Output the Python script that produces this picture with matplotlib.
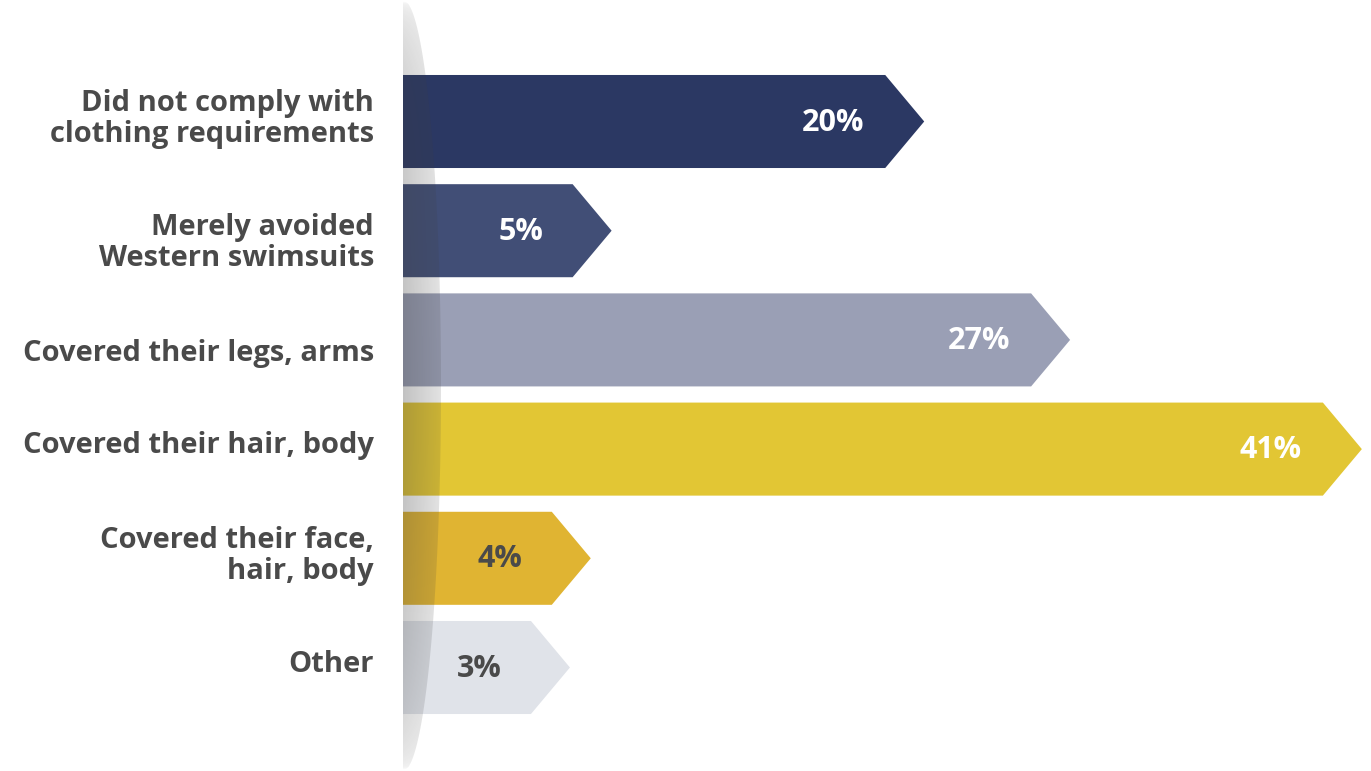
import numpy as np
import matplotlib
matplotlib.use("Agg")
import matplotlib.pyplot as plt
from matplotlib.patches import Polygon

plt.rcParams['font.family'] = ['Open Sans', 'DejaVu Sans']

categories = [
    "Did not comply with\nclothing requirements",
    "Merely avoided\nWestern swimsuits",
    "Covered their legs, arms",
    "Covered their hair, body",
    "Covered their face,\nhair, body",
    "Other",
]
values = [20, 5, 27, 41, 4, 3]
bar_colors = ["#2b3863", "#414e76", "#9a9fb5", "#e2c634", "#e0b432", "#e0e3e9"]
value_colors = ["white", "white", "white", "white", "#4a4a4a", "#4a4a4a"]
# small vertical nudges for the category labels (in bar units)
label_nudge = [-0.02, 0.11, 0.12, -0.03, -0.02, -0.03]

W, H = 1371, 771
fig = plt.figure(figsize=(W / 100, H / 100), dpi=100)
left_px = 403
ax = fig.add_axes([left_px / W, 0, 1 - left_px / W, 1])

px_per_pct = 20.84
pitch = 109.2
first_center = 121.5
ax.set_xlim(0, (W - left_px) / px_per_pct)
ax.set_ylim((H - first_center) / pitch, -first_center / pitch)
ax.axis("off")

base = 3.14      # arrow body starts a little past zero
tip = 1.87       # length of the arrow point
half_h = 0.426

for i, (cat, v) in enumerate(zip(categories, values)):
    end = base + v
    pts = [(0, i - half_h), (end, i - half_h), (end + tip, i),
           (end, i + half_h), (0, i + half_h)]
    ax.add_patch(Polygon(pts, closed=True, facecolor=bar_colors[i],
                         edgecolor="none", zorder=2))
    ax.text(end - 2.5, i + 0.01, f"{v}%", ha="center", va="center",
            fontsize=22, fontweight="bold", color=value_colors[i], zorder=4)
    ax.text(-1.39, i + label_nudge[i], cat, ha="right", va="center",
            fontsize=21, fontweight="bold", color="#4a4a4a",
            linespacing=1.08, clip_on=False)

# curved shadow running down the left edge of the bars
y0, y1 = ax.get_ylim()[1], ax.get_ylim()[0]
yc = (y0 + y1) / 2
ry = (y1 - y0) / 2
rx = 38 / px_per_pct
ys = np.linspace(y0, y1, 200)
xs = rx * np.sqrt(np.clip(1 - ((ys - yc) / ry) ** 2, 0, 1))
shape = Polygon(np.column_stack([np.r_[xs, np.zeros_like(ys)[::-1]],
                                 np.r_[ys, ys[::-1]]]),
                closed=True, facecolor="none", edgecolor="none")
ax.add_patch(shape)

gx = np.linspace(0, 1, 120)
gy = np.linspace(-1, 1, 300)
fade_y = np.clip(1 - gy ** 2, 0, 1) ** 0.35
grad = np.zeros((gy.size, gx.size, 4))
grad[..., :3] = 0.25
grad[..., 3] = (0.32 - 0.17 * gx)[None, :] * fade_y[:, None]
img = ax.imshow(grad, extent=(0, rx, y1, y0), aspect="auto",
                interpolation="bilinear", zorder=3)
img.set_clip_path(shape)

fig.savefig("out.png", dpi=100)
